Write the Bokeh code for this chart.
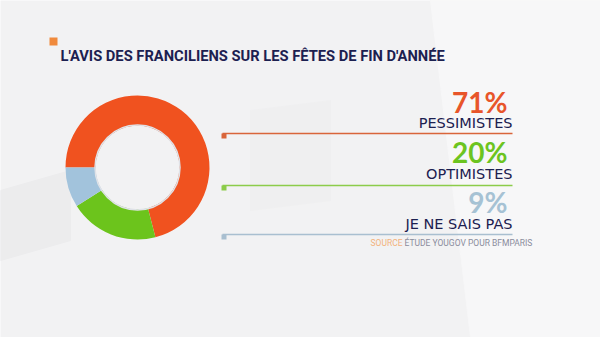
import math
from bokeh.plotting import figure
from bokeh.models import Range1d
from bokeh.core.properties import value
from bokeh.embed import file_html
from bokeh.resources import INLINE

W, H = 600, 337

title = "L'AVIS DES FRANCILIENS SUR LES FÊTES DE FIN D'ANNÉE"
labels = ["PESSIMISTES", "OPTIMISTES", "JE NE SAIS PAS"]
values = [71, 20, 9]
colors = ["#f0521f", "#6cc41c", "#a2c3dc"]
pct_colors = ["#e8552a", "#6cc420", "#a6c2d4"]
line_colors = ["#d9653a", "#8ccc4a", "#a9bfd0"]
source_label = "SOURCE"
source_text = "ÉTUDE YOUGOV POUR BFMPARIS"

def Y(py):
    return H - py

def base(py, size):
    # place alphabetic baseline at pixel row py
    return Y(py - 0.42 * size)

p = figure(width=W, height=H, x_range=Range1d(0, W), y_range=Range1d(0, H),
           output_backend="svg", toolbar_location=None, min_border=0)
p.axis.visible = False
p.grid.visible = False
p.outline_line_color = None
p.background_fill_color = "#f2f2f3"
p.border_fill_color = "#f2f2f3"

# faint watermark shapes
p.patch([0, 70, 70, 0], [Y(190), Y(170), Y(240), Y(260)], color="#ececed")
p.patch([430, 600, 600, 470], [Y(0), Y(0), Y(337), Y(337)], color="#f7f7f8")
p.patch([250, 330, 330, 250], [Y(110), Y(100), Y(200), Y(210)], color="#efeff0")

# donut
cx, cy, r_in, r_out = 137, Y(167), 42, 72
total = float(sum(values))
start = math.pi
starts, ends = [], []
for v in values:
    e = start - 2 * math.pi * v / total
    starts.append(start)
    ends.append(e)
    start = e
p.annular_wedge(x=[cx] * 3, y=[cy] * 3, inner_radius=r_in, outer_radius=r_out,
                start_angle=starts, end_angle=ends, direction="clock",
                fill_color=colors, line_color=None)
p.circle(x=[cx], y=[cy], radius=r_in + 0.5, fill_color=None,
         line_color="#dfe2e7", line_width=1.5)

# title
p.rect(x=[53], y=[Y(41)], width=8, height=8, fill_color="#f08a3c", line_color=None)
p.text(x=[60], y=[base(62, 14.7)], text=[title], text_font=value("Roboto"),
       text_font_style="bold", text_font_size="14.7px", text_color="#1c2050",
       text_baseline="alphabetic", text_align="left")

# right legend
xr = 510
pct_base = [113, 163, 213]
lab_base = [129, 180, 230]
line_y = [133, 185, 234]
for i in range(3):
    p.text(x=[xr - 3], y=[base(pct_base[i], 28)], text=["%d%%" % values[i]],
           text_font=value("Lato"), text_font_style="bold", text_font_size="28px",
           text_color=pct_colors[i], text_align="right", text_baseline="alphabetic")
    p.text(x=[xr + 2], y=[base(lab_base[i], 14.5)], text=[labels[i]],
           text_font=value("DejaVu Sans"), text_font_size="14.5px",
           text_color="#1c2050", text_align="right", text_baseline="alphabetic")
    p.segment(x0=[222], y0=[Y(line_y[i])], x1=[512], y1=[Y(line_y[i])],
              line_color=line_colors[i], line_width=1.5)
    p.rect(x=[223.5], y=[Y(line_y[i] + 2.5)], width=5, height=5,
           fill_color=line_colors[i], line_color=None)

# source
p.text(x=[370], y=[base(246, 8.5)], text=[source_label], text_font=value("Roboto"),
       text_font_size="8.5px", text_color="#f2b27c", text_baseline="alphabetic")
p.text(x=[404], y=[base(246, 8.5)], text=[source_text], text_font=value("Roboto"),
       text_font_size="8.5px", text_color="#8a8c9c", text_baseline="alphabetic")

open("out.html", "w").write(file_html(p, INLINE))
